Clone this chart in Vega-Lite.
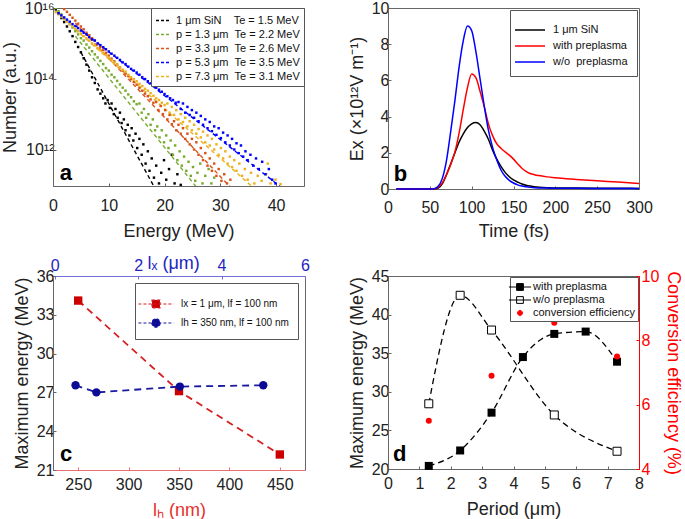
{
  "$schema": "https://vega.github.io/schema/vega-lite/v6.json",
  "padding": {"left": 0, "top": -1, "right": 0, "bottom": 0},
  "config": {
    "font": "Liberation Sans",
    "view": {"stroke": "#666", "strokeWidth": 1},
    "axis": {"grid": false, "labelFontSize": 16, "titleFontSize": 18, "titleFontWeight": "normal", "labelColor": "#222", "titleColor": "#222", "domainColor": "#666", "tickColor": "#666", "tickSize": -3, "tickCount": 20, "labelFlush": false, "labelOverlap": false, "labelBound": false},
    "axisX": {"labelPadding": 9, "titlePadding": 9},
    "axisY": {"labelPadding": 2, "titlePadding": 5},
    "legend": {"labelFont": "Liberation Sans", "labelColor": "#111", "strokeColor": "#555", "fillColor": "white"}
  },
  "resolve": {"scale": {"color": "independent", "fill": "independent"}, "legend": {"color": "independent", "fill": "independent"}},
  "bounds": "flush",
  "columns": 2,
  "spacing": {"row": 87, "column": 83},
  "datasets": {
    "fit": [
      {"E": 5, "N": 5.6e14, "s": "SiN"}, {"E": 18.5, "N": 6.9e10, "s": "SiN"},
      {"E": 4, "N": 1.6e15, "s": "p1.3"}, {"E": 26, "N": 7.6e10, "s": "p1.3"},
      {"E": 4, "N": 3.8e15, "s": "p3.3"}, {"E": 32.5, "N": 6.6e10, "s": "p3.3"},
      {"E": 4, "N": 3.2e15, "s": "p5.3"}, {"E": 41, "N": 8.3e10, "s": "p5.3"},
      {"E": 4, "N": 2.5e15, "s": "p7.3"}, {"E": 36, "N": 8.1e10, "s": "p7.3"}
    ],
    "spec": [
      {"E": 0.5, "N": 9.1e15, "s": "SiN"}, {"E": 1, "N": 7.1e15, "s": "SiN"}, {"E": 1.5, "N": 5.2e15, "s": "SiN"}, {"E": 2, "N": 4.0e15, "s": "SiN"},
      {"E": 2.5, "N": 3.0e15, "s": "SiN"}, {"E": 3, "N": 2.2e15, "s": "SiN"}, {"E": 3.5, "N": 1.6e15, "s": "SiN"}, {"E": 4, "N": 1.1e15, "s": "SiN"},
      {"E": 4.5, "N": 7.9e14, "s": "SiN"}, {"E": 5, "N": 5.6e14, "s": "SiN"}, {"E": 5.5, "N": 3.8e14, "s": "SiN"}, {"E": 6, "N": 2.5e14, "s": "SiN"},
      {"E": 6.5, "N": 1.7e14, "s": "SiN"}, {"E": 7, "N": 1.1e14, "s": "SiN"}, {"E": 7.5, "N": 7.6e13, "s": "SiN"}, {"E": 8, "N": 5.0e13, "s": "SiN"},
      {"E": 8.5, "N": 3.8e13, "s": "SiN"}, {"E": 9, "N": 2.8e13, "s": "SiN"}, {"E": 9.4, "N": 2.0e13, "s": "SiN"}, {"E": 9.8, "N": 2.5e13, "s": "SiN"},
      {"E": 10.2, "N": 1.5e13, "s": "SiN"}, {"E": 10.5, "N": 2.0e13, "s": "SiN"}, {"E": 10.9, "N": 1.0e13, "s": "SiN"}, {"E": 11.2, "N": 1.4e13, "s": "SiN"},
      {"E": 11.6, "N": 7.9e12, "s": "SiN"}, {"E": 12, "N": 1.1e13, "s": "SiN"}, {"E": 12.3, "N": 5.6e12, "s": "SiN"}, {"E": 12.7, "N": 7.1e12, "s": "SiN"},
      {"E": 13, "N": 3.5e12, "s": "SiN"}, {"E": 13.4, "N": 5.0e12, "s": "SiN"}, {"E": 13.7, "N": 2.5e12, "s": "SiN"}, {"E": 14.1, "N": 4.0e12, "s": "SiN"},
      {"E": 14.4, "N": 1.8e12, "s": "SiN"}, {"E": 14.8, "N": 2.8e12, "s": "SiN"}, {"E": 15.1, "N": 1.1e12, "s": "SiN"}, {"E": 15.5, "N": 2.0e12, "s": "SiN"},
      {"E": 15.9, "N": 7.1e11, "s": "SiN"}, {"E": 16.2, "N": 1.4e12, "s": "SiN"}, {"E": 16.6, "N": 4.0e11, "s": "SiN"}, {"E": 17, "N": 8.9e11, "s": "SiN"},
      {"E": 17.3, "N": 2.5e11, "s": "SiN"}, {"E": 17.7, "N": 5.6e11, "s": "SiN"}, {"E": 18.1, "N": 1.6e11, "s": "SiN"}, {"E": 18.5, "N": 3.5e11, "s": "SiN"},
      {"E": 19, "N": 1.1e11, "s": "SiN"}, {"E": 19.4, "N": 2.2e11, "s": "SiN"}, {"E": 19.9, "N": 5.0e11, "s": "SiN"}, {"E": 20.3, "N": 1.4e11, "s": "SiN"},
      {"E": 20.8, "N": 2.8e11, "s": "SiN"}, {"E": 21.3, "N": 7.1e11, "s": "SiN"}, {"E": 21.8, "N": 1.1e11, "s": "SiN"}, {"E": 22.3, "N": 2.0e11, "s": "SiN"},
      {"E": 22.9, "N": 1.0e11, "s": "SiN"},

      {"E": 0.5, "N": 1.0e16, "s": "p1.3"}, {"E": 1, "N": 8.1e15, "s": "p1.3"}, {"E": 1.5, "N": 6.6e15, "s": "p1.3"}, {"E": 2, "N": 5.3e15, "s": "p1.3"},
      {"E": 2.5, "N": 4.3e15, "s": "p1.3"}, {"E": 3, "N": 3.5e15, "s": "p1.3"}, {"E": 3.5, "N": 2.8e15, "s": "p1.3"}, {"E": 4, "N": 2.2e15, "s": "p1.3"},
      {"E": 4.5, "N": 1.8e15, "s": "p1.3"}, {"E": 5, "N": 1.4e15, "s": "p1.3"}, {"E": 5.5, "N": 1.2e15, "s": "p1.3"}, {"E": 6, "N": 9.3e14, "s": "p1.3"},
      {"E": 6.5, "N": 7.6e14, "s": "p1.3"}, {"E": 7, "N": 6.0e14, "s": "p1.3"}, {"E": 7.5, "N": 4.9e14, "s": "p1.3"}, {"E": 8, "N": 4.0e14, "s": "p1.3"},
      {"E": 8.5, "N": 3.2e14, "s": "p1.3"}, {"E": 9, "N": 2.6e14, "s": "p1.3"}, {"E": 9.5, "N": 2.0e14, "s": "p1.3"}, {"E": 10, "N": 1.7e14, "s": "p1.3"},
      {"E": 10.5, "N": 1.3e14, "s": "p1.3"}, {"E": 11, "N": 1.1e14, "s": "p1.3"}, {"E": 11.5, "N": 8.7e13, "s": "p1.3"}, {"E": 12, "N": 6.9e13, "s": "p1.3"},
      {"E": 12.5, "N": 5.6e13, "s": "p1.3"}, {"E": 13, "N": 4.6e13, "s": "p1.3"}, {"E": 13.5, "N": 3.6e13, "s": "p1.3"}, {"E": 14, "N": 3.0e13, "s": "p1.3"},
      {"E": 14.5, "N": 2.3e13, "s": "p1.3"}, {"E": 15, "N": 1.9e13, "s": "p1.3"}, {"E": 15.5, "N": 2.0e13, "s": "p1.3"}, {"E": 15.9, "N": 1.1e13, "s": "p1.3"},
      {"E": 16.3, "N": 1.4e13, "s": "p1.3"}, {"E": 16.7, "N": 7.9e12, "s": "p1.3"}, {"E": 17.1, "N": 1.0e13, "s": "p1.3"}, {"E": 17.5, "N": 5.0e12, "s": "p1.3"},
      {"E": 17.9, "N": 7.1e12, "s": "p1.3"}, {"E": 18.3, "N": 3.5e12, "s": "p1.3"}, {"E": 18.7, "N": 4.5e12, "s": "p1.3"}, {"E": 19.1, "N": 2.2e12, "s": "p1.3"},
      {"E": 19.5, "N": 3.5e12, "s": "p1.3"}, {"E": 19.9, "N": 1.6e12, "s": "p1.3"}, {"E": 20.3, "N": 2.5e12, "s": "p1.3"}, {"E": 20.7, "N": 1.1e12, "s": "p1.3"},
      {"E": 21.1, "N": 1.8e12, "s": "p1.3"}, {"E": 21.5, "N": 7.1e11, "s": "p1.3"}, {"E": 21.9, "N": 1.3e12, "s": "p1.3"}, {"E": 22.3, "N": 5.0e11, "s": "p1.3"},
      {"E": 22.7, "N": 8.9e11, "s": "p1.3"}, {"E": 23.1, "N": 3.5e11, "s": "p1.3"}, {"E": 23.5, "N": 6.3e11, "s": "p1.3"}, {"E": 23.9, "N": 2.5e11, "s": "p1.3"},
      {"E": 24.3, "N": 4.5e11, "s": "p1.3"}, {"E": 24.7, "N": 1.8e11, "s": "p1.3"}, {"E": 25.1, "N": 3.2e11, "s": "p1.3"}, {"E": 25.5, "N": 1.3e11, "s": "p1.3"},
      {"E": 25.9, "N": 2.2e11, "s": "p1.3"}, {"E": 26.4, "N": 4.0e11, "s": "p1.3"}, {"E": 26.8, "N": 1.1e11, "s": "p1.3"}, {"E": 27.3, "N": 1.8e11, "s": "p1.3"},
      {"E": 27.9, "N": 2.8e11, "s": "p1.3"}, {"E": 28.4, "N": 1.1e11, "s": "p1.3"}, {"E": 28.9, "N": 1.6e11, "s": "p1.3"},

      {"E": 2, "N": 9.3e15, "s": "p3.3"}, {"E": 2.5, "N": 7.8e15, "s": "p3.3"}, {"E": 3, "N": 6.4e15, "s": "p3.3"}, {"E": 3.5, "N": 5.3e15, "s": "p3.3"},
      {"E": 4, "N": 4.4e15, "s": "p3.3"}, {"E": 4.5, "N": 3.6e15, "s": "p3.3"}, {"E": 5, "N": 3.0e15, "s": "p3.3"}, {"E": 5.5, "N": 2.5e15, "s": "p3.3"},
      {"E": 6, "N": 2.0e15, "s": "p3.3"}, {"E": 6.5, "N": 1.7e15, "s": "p3.3"}, {"E": 7, "N": 1.4e15, "s": "p3.3"}, {"E": 7.5, "N": 1.2e15, "s": "p3.3"},
      {"E": 8, "N": 9.5e14, "s": "p3.3"}, {"E": 8.5, "N": 7.9e14, "s": "p3.3"}, {"E": 9, "N": 6.6e14, "s": "p3.3"}, {"E": 9.5, "N": 5.4e14, "s": "p3.3"},
      {"E": 10, "N": 4.5e14, "s": "p3.3"}, {"E": 10.5, "N": 3.7e14, "s": "p3.3"}, {"E": 11, "N": 3.1e14, "s": "p3.3"}, {"E": 11.5, "N": 2.5e14, "s": "p3.3"},
      {"E": 12, "N": 2.1e14, "s": "p3.3"}, {"E": 12.5, "N": 1.7e14, "s": "p3.3"}, {"E": 13, "N": 1.4e14, "s": "p3.3"}, {"E": 13.5, "N": 1.2e14, "s": "p3.3"},
      {"E": 14, "N": 9.8e13, "s": "p3.3"}, {"E": 14.5, "N": 8.1e13, "s": "p3.3"}, {"E": 15, "N": 6.8e13, "s": "p3.3"}, {"E": 15.5, "N": 5.5e13, "s": "p3.3"},
      {"E": 16, "N": 4.6e13, "s": "p3.3"}, {"E": 16.5, "N": 3.8e13, "s": "p3.3"}, {"E": 17, "N": 3.2e13, "s": "p3.3"}, {"E": 17.5, "N": 2.6e13, "s": "p3.3"},
      {"E": 18, "N": 2.1e13, "s": "p3.3"}, {"E": 18.5, "N": 2.2e13, "s": "p3.3"}, {"E": 18.9, "N": 1.3e13, "s": "p3.3"}, {"E": 19.3, "N": 1.7e13, "s": "p3.3"},
      {"E": 19.7, "N": 1.0e13, "s": "p3.3"}, {"E": 20.1, "N": 1.3e13, "s": "p3.3"}, {"E": 20.5, "N": 7.1e12, "s": "p3.3"}, {"E": 20.9, "N": 9.5e12, "s": "p3.3"},
      {"E": 21.3, "N": 5.2e12, "s": "p3.3"}, {"E": 21.7, "N": 6.3e12, "s": "p3.3"}, {"E": 22.1, "N": 3.5e12, "s": "p3.3"}, {"E": 22.5, "N": 5.0e12, "s": "p3.3"},
      {"E": 22.9, "N": 2.8e12, "s": "p3.3"}, {"E": 23.3, "N": 4.0e12, "s": "p3.3"}, {"E": 23.7, "N": 2.0e12, "s": "p3.3"}, {"E": 24.1, "N": 2.8e12, "s": "p3.3"},
      {"E": 24.5, "N": 1.4e12, "s": "p3.3"}, {"E": 24.9, "N": 2.0e12, "s": "p3.3"}, {"E": 25.3, "N": 1.0e12, "s": "p3.3"}, {"E": 25.7, "N": 1.6e12, "s": "p3.3"},
      {"E": 26.1, "N": 7.1e11, "s": "p3.3"}, {"E": 26.5, "N": 1.1e12, "s": "p3.3"}, {"E": 26.9, "N": 5.0e11, "s": "p3.3"}, {"E": 27.3, "N": 7.9e11, "s": "p3.3"},
      {"E": 27.7, "N": 3.5e11, "s": "p3.3"}, {"E": 28.1, "N": 5.6e11, "s": "p3.3"}, {"E": 28.5, "N": 2.5e11, "s": "p3.3"}, {"E": 28.9, "N": 4.0e11, "s": "p3.3"},
      {"E": 29.3, "N": 1.8e11, "s": "p3.3"}, {"E": 29.7, "N": 2.8e11, "s": "p3.3"}, {"E": 30.2, "N": 1.3e11, "s": "p3.3"}, {"E": 30.7, "N": 2.0e11, "s": "p3.3"},
      {"E": 31.2, "N": 1.1e11, "s": "p3.3"}, {"E": 31.8, "N": 1.4e11, "s": "p3.3"},

      {"E": 0.5, "N": 7.6e15, "s": "p7.3"}, {"E": 1, "N": 6.6e15, "s": "p7.3"}, {"E": 1.5, "N": 5.6e15, "s": "p7.3"}, {"E": 2, "N": 4.8e15, "s": "p7.3"},
      {"E": 2.5, "N": 4.1e15, "s": "p7.3"}, {"E": 3, "N": 3.5e15, "s": "p7.3"}, {"E": 3.5, "N": 3.0e15, "s": "p7.3"}, {"E": 4, "N": 2.6e15, "s": "p7.3"},
      {"E": 4.5, "N": 2.2e15, "s": "p7.3"}, {"E": 5, "N": 1.9e15, "s": "p7.3"}, {"E": 5.5, "N": 1.6e15, "s": "p7.3"}, {"E": 6, "N": 1.4e15, "s": "p7.3"},
      {"E": 6.5, "N": 1.2e15, "s": "p7.3"}, {"E": 7, "N": 1.0e15, "s": "p7.3"}, {"E": 7.5, "N": 8.7e14, "s": "p7.3"}, {"E": 8, "N": 7.4e14, "s": "p7.3"},
      {"E": 8.5, "N": 6.3e14, "s": "p7.3"}, {"E": 9, "N": 5.5e14, "s": "p7.3"}, {"E": 9.5, "N": 4.7e14, "s": "p7.3"}, {"E": 10, "N": 4.0e14, "s": "p7.3"},
      {"E": 10.5, "N": 3.4e14, "s": "p7.3"}, {"E": 11, "N": 2.9e14, "s": "p7.3"}, {"E": 11.5, "N": 2.5e14, "s": "p7.3"}, {"E": 12, "N": 2.1e14, "s": "p7.3"},
      {"E": 12.5, "N": 1.8e14, "s": "p7.3"}, {"E": 13, "N": 1.6e14, "s": "p7.3"}, {"E": 13.5, "N": 1.3e14, "s": "p7.3"}, {"E": 14, "N": 1.1e14, "s": "p7.3"},
      {"E": 14.5, "N": 9.8e13, "s": "p7.3"}, {"E": 15, "N": 8.5e13, "s": "p7.3"}, {"E": 15.5, "N": 7.2e13, "s": "p7.3"}, {"E": 16, "N": 6.2e13, "s": "p7.3"},
      {"E": 16.5, "N": 5.2e13, "s": "p7.3"}, {"E": 17, "N": 4.6e13, "s": "p7.3"}, {"E": 17.5, "N": 3.9e13, "s": "p7.3"}, {"E": 18, "N": 3.3e13, "s": "p7.3"},
      {"E": 18.5, "N": 2.8e13, "s": "p7.3"}, {"E": 19, "N": 2.5e13, "s": "p7.3"}, {"E": 19.5, "N": 2.1e13, "s": "p7.3"}, {"E": 20, "N": 1.8e13, "s": "p7.3"},
      {"E": 20.5, "N": 2.0e13, "s": "p7.3"}, {"E": 20.9, "N": 1.1e13, "s": "p7.3"}, {"E": 21.3, "N": 1.6e13, "s": "p7.3"}, {"E": 21.7, "N": 9.5e12, "s": "p7.3"},
      {"E": 22.1, "N": 1.3e13, "s": "p7.3"}, {"E": 22.5, "N": 7.1e12, "s": "p7.3"}, {"E": 22.9, "N": 1.0e13, "s": "p7.3"}, {"E": 23.3, "N": 6.0e12, "s": "p7.3"},
      {"E": 23.7, "N": 7.9e12, "s": "p7.3"}, {"E": 24.1, "N": 4.5e12, "s": "p7.3"}, {"E": 24.5, "N": 6.3e12, "s": "p7.3"}, {"E": 24.9, "N": 3.5e12, "s": "p7.3"},
      {"E": 25.3, "N": 5.0e12, "s": "p7.3"}, {"E": 25.7, "N": 2.8e12, "s": "p7.3"}, {"E": 26.1, "N": 3.8e12, "s": "p7.3"}, {"E": 26.5, "N": 2.2e12, "s": "p7.3"},
      {"E": 26.9, "N": 3.2e12, "s": "p7.3"}, {"E": 27.3, "N": 1.6e12, "s": "p7.3"}, {"E": 27.7, "N": 2.5e12, "s": "p7.3"}, {"E": 28.1, "N": 1.3e12, "s": "p7.3"},
      {"E": 28.5, "N": 2.0e12, "s": "p7.3"}, {"E": 28.9, "N": 1.0e12, "s": "p7.3"}, {"E": 29.3, "N": 1.4e12, "s": "p7.3"}, {"E": 29.7, "N": 7.1e11, "s": "p7.3"},
      {"E": 30.1, "N": 1.1e12, "s": "p7.3"}, {"E": 30.5, "N": 5.6e11, "s": "p7.3"}, {"E": 30.9, "N": 8.9e11, "s": "p7.3"}, {"E": 31.3, "N": 4.0e11, "s": "p7.3"},
      {"E": 31.7, "N": 6.3e11, "s": "p7.3"}, {"E": 32.1, "N": 3.2e11, "s": "p7.3"}, {"E": 32.5, "N": 5.0e11, "s": "p7.3"}, {"E": 32.9, "N": 2.5e11, "s": "p7.3"},
      {"E": 33.4, "N": 4.0e11, "s": "p7.3"}, {"E": 33.9, "N": 1.8e11, "s": "p7.3"}, {"E": 34.4, "N": 2.8e11, "s": "p7.3"}, {"E": 34.9, "N": 1.4e11, "s": "p7.3"},
      {"E": 35.5, "N": 2.2e11, "s": "p7.3"}, {"E": 36.1, "N": 1.1e11, "s": "p7.3"}, {"E": 36.7, "N": 1.8e11, "s": "p7.3"}, {"E": 37.4, "N": 1.3e11, "s": "p7.3"},
      {"E": 38.2, "N": 2.0e11, "s": "p7.3"}, {"E": 38.5, "N": 4.0e11, "s": "p7.3"}, {"E": 39, "N": 1.1e11, "s": "p7.3"}, {"E": 39.9, "N": 1.4e11, "s": "p7.3"},
      {"E": 40.8, "N": 1.05e11, "s": "p7.3"},

      {"E": 1, "N": 7.1e15, "s": "p5.3"}, {"E": 1.5, "N": 6.2e15, "s": "p5.3"}, {"E": 2, "N": 5.4e15, "s": "p5.3"}, {"E": 2.5, "N": 4.7e15, "s": "p5.3"},
      {"E": 3, "N": 4.1e15, "s": "p5.3"}, {"E": 3.5, "N": 3.5e15, "s": "p5.3"}, {"E": 4, "N": 3.1e15, "s": "p5.3"}, {"E": 4.5, "N": 2.7e15, "s": "p5.3"},
      {"E": 5, "N": 2.3e15, "s": "p5.3"}, {"E": 5.5, "N": 2.0e15, "s": "p5.3"}, {"E": 6, "N": 1.8e15, "s": "p5.3"}, {"E": 6.5, "N": 1.5e15, "s": "p5.3"},
      {"E": 7, "N": 1.3e15, "s": "p5.3"}, {"E": 7.5, "N": 1.2e15, "s": "p5.3"}, {"E": 8, "N": 1.0e15, "s": "p5.3"}, {"E": 8.5, "N": 8.9e14, "s": "p5.3"},
      {"E": 9, "N": 7.8e14, "s": "p5.3"}, {"E": 9.5, "N": 6.8e14, "s": "p5.3"}, {"E": 10, "N": 5.9e14, "s": "p5.3"}, {"E": 10.5, "N": 5.1e14, "s": "p5.3"},
      {"E": 11, "N": 4.5e14, "s": "p5.3"}, {"E": 11.5, "N": 3.9e14, "s": "p5.3"}, {"E": 12, "N": 3.4e14, "s": "p5.3"}, {"E": 12.5, "N": 2.9e14, "s": "p5.3"},
      {"E": 13, "N": 2.6e14, "s": "p5.3"}, {"E": 13.5, "N": 2.2e14, "s": "p5.3"}, {"E": 14, "N": 1.9e14, "s": "p5.3"}, {"E": 14.5, "N": 1.7e14, "s": "p5.3"},
      {"E": 15, "N": 1.5e14, "s": "p5.3"}, {"E": 15.5, "N": 1.3e14, "s": "p5.3"}, {"E": 16, "N": 1.1e14, "s": "p5.3"}, {"E": 16.5, "N": 9.8e13, "s": "p5.3"},
      {"E": 17, "N": 8.5e13, "s": "p5.3"}, {"E": 17.5, "N": 7.4e13, "s": "p5.3"}, {"E": 18, "N": 6.5e13, "s": "p5.3"}, {"E": 18.5, "N": 5.6e13, "s": "p5.3"},
      {"E": 19, "N": 4.9e13, "s": "p5.3"}, {"E": 19.5, "N": 4.3e13, "s": "p5.3"}, {"E": 20, "N": 3.7e13, "s": "p5.3"}, {"E": 20.5, "N": 3.2e13, "s": "p5.3"},
      {"E": 21, "N": 2.8e13, "s": "p5.3"}, {"E": 21.5, "N": 2.5e13, "s": "p5.3"}, {"E": 22, "N": 2.1e13, "s": "p5.3"}, {"E": 22.5, "N": 2.2e13, "s": "p5.3"},
      {"E": 22.9, "N": 1.4e13, "s": "p5.3"}, {"E": 23.3, "N": 2.0e13, "s": "p5.3"}, {"E": 23.7, "N": 1.1e13, "s": "p5.3"}, {"E": 24.1, "N": 1.6e13, "s": "p5.3"},
      {"E": 24.5, "N": 9.5e12, "s": "p5.3"}, {"E": 24.9, "N": 1.3e13, "s": "p5.3"}, {"E": 25.3, "N": 7.9e12, "s": "p5.3"}, {"E": 25.7, "N": 1.1e13, "s": "p5.3"},
      {"E": 26.1, "N": 6.3e12, "s": "p5.3"}, {"E": 26.5, "N": 8.9e12, "s": "p5.3"}, {"E": 26.9, "N": 5.0e12, "s": "p5.3"}, {"E": 27.3, "N": 7.1e12, "s": "p5.3"},
      {"E": 27.7, "N": 4.0e12, "s": "p5.3"}, {"E": 28.1, "N": 6.0e12, "s": "p5.3"}, {"E": 28.5, "N": 3.3e12, "s": "p5.3"}, {"E": 28.9, "N": 4.5e12, "s": "p5.3"},
      {"E": 29.3, "N": 2.6e12, "s": "p5.3"}, {"E": 29.7, "N": 4.0e12, "s": "p5.3"}, {"E": 30.1, "N": 2.1e12, "s": "p5.3"}, {"E": 30.5, "N": 3.0e12, "s": "p5.3"},
      {"E": 30.9, "N": 1.6e12, "s": "p5.3"}, {"E": 31.3, "N": 2.5e12, "s": "p5.3"}, {"E": 31.7, "N": 1.3e12, "s": "p5.3"}, {"E": 32.1, "N": 2.0e12, "s": "p5.3"},
      {"E": 32.5, "N": 1.0e12, "s": "p5.3"}, {"E": 32.9, "N": 1.5e12, "s": "p5.3"}, {"E": 33.3, "N": 7.9e11, "s": "p5.3"}, {"E": 33.7, "N": 1.3e12, "s": "p5.3"},
      {"E": 34.1, "N": 6.3e11, "s": "p5.3"}, {"E": 34.5, "N": 8.9e11, "s": "p5.3"}, {"E": 34.9, "N": 5.0e11, "s": "p5.3"}, {"E": 35.4, "N": 7.1e11, "s": "p5.3"},
      {"E": 35.9, "N": 3.5e11, "s": "p5.3"}, {"E": 36.4, "N": 5.6e11, "s": "p5.3"}, {"E": 36.9, "N": 2.8e11, "s": "p5.3"}, {"E": 37.5, "N": 4.5e11, "s": "p5.3"},
      {"E": 38.1, "N": 2.0e11, "s": "p5.3"}, {"E": 38.7, "N": 2.8e11, "s": "p5.3"}, {"E": 39.3, "N": 1.4e11, "s": "p5.3"}, {"E": 39.9, "N": 1.1e11, "s": "p5.3"}
    ],
    "ex": [
      {"t": 10, "v": 0, "s": "1 μm SiN"}, {"t": 50, "v": 0, "s": "1 μm SiN"}, {"t": 55, "v": 0, "s": "1 μm SiN"}, {"t": 60, "v": 0.05, "s": "1 μm SiN"},
      {"t": 65, "v": 0.3, "s": "1 μm SiN"}, {"t": 70, "v": 0.8, "s": "1 μm SiN"}, {"t": 75, "v": 1.4, "s": "1 μm SiN"}, {"t": 80, "v": 2.0, "s": "1 μm SiN"},
      {"t": 85, "v": 2.6, "s": "1 μm SiN"}, {"t": 90, "v": 3.05, "s": "1 μm SiN"}, {"t": 95, "v": 3.4, "s": "1 μm SiN"}, {"t": 100, "v": 3.6, "s": "1 μm SiN"},
      {"t": 105, "v": 3.67, "s": "1 μm SiN"}, {"t": 110, "v": 3.55, "s": "1 μm SiN"}, {"t": 115, "v": 3.2, "s": "1 μm SiN"}, {"t": 120, "v": 2.75, "s": "1 μm SiN"},
      {"t": 125, "v": 2.15, "s": "1 μm SiN"}, {"t": 130, "v": 1.65, "s": "1 μm SiN"}, {"t": 135, "v": 1.25, "s": "1 μm SiN"}, {"t": 140, "v": 0.92, "s": "1 μm SiN"},
      {"t": 145, "v": 0.68, "s": "1 μm SiN"}, {"t": 150, "v": 0.5, "s": "1 μm SiN"}, {"t": 155, "v": 0.38, "s": "1 μm SiN"}, {"t": 160, "v": 0.28, "s": "1 μm SiN"},
      {"t": 165, "v": 0.21, "s": "1 μm SiN"}, {"t": 170, "v": 0.16, "s": "1 μm SiN"}, {"t": 175, "v": 0.12, "s": "1 μm SiN"}, {"t": 180, "v": 0.1, "s": "1 μm SiN"},
      {"t": 190, "v": 0.07, "s": "1 μm SiN"}, {"t": 200, "v": 0.06, "s": "1 μm SiN"}, {"t": 225, "v": 0.05, "s": "1 μm SiN"}, {"t": 250, "v": 0.04, "s": "1 μm SiN"},
      {"t": 275, "v": 0.04, "s": "1 μm SiN"}, {"t": 300, "v": 0.03, "s": "1 μm SiN"},
      {"t": 10, "v": 0, "s": "with preplasma"}, {"t": 50, "v": 0, "s": "with preplasma"}, {"t": 55, "v": 0, "s": "with preplasma"}, {"t": 60, "v": 0.1, "s": "with preplasma"},
      {"t": 65, "v": 0.35, "s": "with preplasma"}, {"t": 70, "v": 0.8, "s": "with preplasma"}, {"t": 75, "v": 1.35, "s": "with preplasma"}, {"t": 80, "v": 2.05, "s": "with preplasma"},
      {"t": 85, "v": 3.1, "s": "with preplasma"}, {"t": 90, "v": 4.4, "s": "with preplasma"}, {"t": 95, "v": 5.6, "s": "with preplasma"}, {"t": 100, "v": 6.35, "s": "with preplasma"},
      {"t": 105, "v": 6.15, "s": "with preplasma"}, {"t": 110, "v": 5.4, "s": "with preplasma"}, {"t": 115, "v": 4.55, "s": "with preplasma"}, {"t": 120, "v": 3.6, "s": "with preplasma"},
      {"t": 125, "v": 2.95, "s": "with preplasma"}, {"t": 130, "v": 2.5, "s": "with preplasma"}, {"t": 135, "v": 2.25, "s": "with preplasma"}, {"t": 140, "v": 2.05, "s": "with preplasma"},
      {"t": 145, "v": 1.87, "s": "with preplasma"}, {"t": 150, "v": 1.65, "s": "with preplasma"}, {"t": 155, "v": 1.4, "s": "with preplasma"}, {"t": 160, "v": 1.15, "s": "with preplasma"},
      {"t": 165, "v": 0.98, "s": "with preplasma"}, {"t": 170, "v": 0.86, "s": "with preplasma"}, {"t": 175, "v": 0.79, "s": "with preplasma"}, {"t": 180, "v": 0.74, "s": "with preplasma"},
      {"t": 190, "v": 0.67, "s": "with preplasma"}, {"t": 200, "v": 0.62, "s": "with preplasma"}, {"t": 225, "v": 0.53, "s": "with preplasma"}, {"t": 250, "v": 0.45, "s": "with preplasma"},
      {"t": 275, "v": 0.38, "s": "with preplasma"}, {"t": 300, "v": 0.3, "s": "with preplasma"},
      {"t": 10, "v": 0, "s": "w/o preplasma"}, {"t": 50, "v": 0, "s": "w/o preplasma"}, {"t": 55, "v": 0.02, "s": "w/o preplasma"}, {"t": 60, "v": 0.15, "s": "w/o preplasma"},
      {"t": 65, "v": 0.6, "s": "w/o preplasma"}, {"t": 70, "v": 1.6, "s": "w/o preplasma"}, {"t": 75, "v": 3.2, "s": "w/o preplasma"}, {"t": 80, "v": 4.9, "s": "w/o preplasma"},
      {"t": 85, "v": 6.75, "s": "w/o preplasma"}, {"t": 90, "v": 8.2, "s": "w/o preplasma"}, {"t": 95, "v": 9.0, "s": "w/o preplasma"}, {"t": 100, "v": 8.75, "s": "w/o preplasma"},
      {"t": 105, "v": 7.6, "s": "w/o preplasma"}, {"t": 110, "v": 6.1, "s": "w/o preplasma"}, {"t": 115, "v": 4.6, "s": "w/o preplasma"}, {"t": 120, "v": 3.25, "s": "w/o preplasma"},
      {"t": 125, "v": 2.3, "s": "w/o preplasma"}, {"t": 130, "v": 1.6, "s": "w/o preplasma"}, {"t": 135, "v": 1.05, "s": "w/o preplasma"}, {"t": 140, "v": 0.7, "s": "w/o preplasma"},
      {"t": 145, "v": 0.48, "s": "w/o preplasma"}, {"t": 150, "v": 0.33, "s": "w/o preplasma"}, {"t": 155, "v": 0.23, "s": "w/o preplasma"}, {"t": 160, "v": 0.16, "s": "w/o preplasma"},
      {"t": 165, "v": 0.12, "s": "w/o preplasma"}, {"t": 170, "v": 0.09, "s": "w/o preplasma"}, {"t": 175, "v": 0.07, "s": "w/o preplasma"}, {"t": 180, "v": 0.06, "s": "w/o preplasma"},
      {"t": 190, "v": 0.05, "s": "w/o preplasma"}, {"t": 200, "v": 0.04, "s": "w/o preplasma"}, {"t": 225, "v": 0.04, "s": "w/o preplasma"}, {"t": 250, "v": 0.03, "s": "w/o preplasma"},
      {"t": 275, "v": 0.03, "s": "w/o preplasma"}, {"t": 300, "v": 0.03, "s": "w/o preplasma"}
    ],
    "cr": [
      {"lh": 250, "E": 34.1, "s": "lx = 1 μm, lf = 100 nm"},
      {"lh": 350, "E": 27.1, "s": "lx = 1 μm, lf = 100 nm"},
      {"lh": 450, "E": 22.2, "s": "lx = 1 μm, lf = 100 nm"}
    ],
    "cb": [
      {"lx": 0.5, "E": 27.55, "s": "lh = 350 nm, lf = 100 nm"},
      {"lx": 1, "E": 27.0, "s": "lh = 350 nm, lf = 100 nm"},
      {"lx": 3, "E": 27.45, "s": "lh = 350 nm, lf = 100 nm"},
      {"lx": 5, "E": 27.55, "s": "lh = 350 nm, lf = 100 nm"}
    ],
    "d": [
      {"p": 1.3, "E": 20.4, "s": "with preplasma"}, {"p": 2.3, "E": 22.4, "s": "with preplasma"}, {"p": 3.3, "E": 27.3, "s": "with preplasma"},
      {"p": 4.3, "E": 34.5, "s": "with preplasma"}, {"p": 5.3, "E": 37.5, "s": "with preplasma"}, {"p": 6.3, "E": 37.8, "s": "with preplasma"},
      {"p": 7.3, "E": 33.9, "s": "with preplasma"},
      {"p": 1.3, "E": 28.45, "s": "w/o preplasma"}, {"p": 2.3, "E": 42.5, "s": "w/o preplasma"}, {"p": 3.3, "E": 38.0, "s": "w/o preplasma"},
      {"p": 5.3, "E": 27.0, "s": "w/o preplasma"}, {"p": 7.3, "E": 22.3, "s": "w/o preplasma"}
    ],
    "ce": [
      {"p": 1.3, "ce": 5.5}, {"p": 3.3, "ce": 6.9}, {"p": 5.3, "ce": 8.55}, {"p": 7.3, "ce": 7.5}
    ]
  },
  "concat": [
    {
      "width": 251,
      "height": 178,
      "layer": [
        {
          "data": {"name": "fit"},
          "mark": {"type": "line", "strokeDash": [4, 3], "strokeWidth": 1.4, "clip": true},
          "encoding": {
            "x": {"field": "E", "type": "quantitative", "scale": {"domain": [0, 45], "nice": false}, "axis": {"values": [0, 10, 20, 30, 40], "format": "d", "tickCount": 20, "labelPadding": 14, "titlePadding": 9, "title": "Energy (MeV)", "labelOverlap": false}},
            "y": {"field": "N", "type": "quantitative", "scale": {"type": "log", "domain": [9.3e10, 1e16], "nice": false}, "axis": {"values": [1e12, 1e14, 1e16], "tickCount": 20, "labelOverlap": false, "labelExpr": "datum.value > 1e15 ? '10¹⁶' : datum.value > 1e13 ? '10¹⁴' : '10¹²'", "title": "Number (a.u.)"}},
            "color": {
              "field": "s", "type": "nominal",
              "scale": {"domain": ["SiN", "p1.3", "p3.3", "p5.3", "p7.3"], "range": ["#000000", "#77ac30", "#d95319", "#0000ff", "#edb120"]},
              "legend": {
                "title": null, "orient": "top-right", "offset": 0, "padding": 4, "rowPadding": 0, "labelOffset": 4,
                "symbolType": "stroke", "symbolSize": 225, "symbolStrokeWidth": 1.5, "symbolDash": [3, 2], "labelFontSize": 11,
                "labelExpr": "datum.label == 'SiN' ? '1 μm SiN\u00a0\u00a0\u00a0\u00a0Te = 1.5 MeV' : datum.label == 'p1.3' ? 'p = 1.3 μm\u00a0\u00a0Te = 2.2 MeV' : datum.label == 'p3.3' ? 'p = 3.3 μm\u00a0\u00a0Te = 2.6 MeV' : datum.label == 'p5.3' ? 'p = 5.3 μm\u00a0\u00a0Te = 3.5 MeV' : 'p = 7.3 μm\u00a0\u00a0Te = 3.1 MeV'"
              }
            }
          }
        },
        {
          "data": {"name": "spec"},
          "mark": {"type": "square", "size": 6, "filled": true, "opacity": 1, "clip": true},
          "encoding": {
            "x": {"field": "E", "type": "quantitative"},
            "y": {"field": "N", "type": "quantitative"},
            "fill": {"field": "s", "type": "nominal", "scale": {"domain": ["SiN", "p1.3", "p3.3", "p5.3", "p7.3"], "range": ["#000000", "#77ac30", "#d95319", "#0000ff", "#edb120"]}, "legend": null}
          }
        },
        {
          "data": {"values": [{"E": 1.2, "N": 1.35e11, "t": "a"}]},
          "mark": {"type": "text", "fontSize": 22, "fontWeight": "bold", "align": "left", "baseline": "alphabetic", "color": "black"},
          "encoding": {
            "x": {"field": "E", "type": "quantitative"},
            "y": {"field": "N", "type": "quantitative"},
            "text": {"field": "t"}
          }
        }
      ]
    },
    {
      "width": 251,
      "height": 181,
      "layer": [
        {
          "data": {"name": "ex"},
          "mark": {"type": "line", "strokeWidth": 1.5, "interpolate": "monotone"},
          "encoding": {
            "x": {"field": "t", "type": "quantitative", "scale": {"domain": [0, 300], "nice": false}, "axis": {"values": [0, 50, 100, 150, 200, 250, 300], "format": "d", "tickCount": 20, "labelPadding": 13, "titlePadding": 7, "labelOverlap": false, "title": "Time (fs)"}},
            "y": {"field": "v", "type": "quantitative", "scale": {"domain": [0, 10], "nice": false}, "axis": {"values": [0, 2, 4, 6, 8, 10], "format": "d", "tickCount": 20, "labelOverlap": false, "title": "Ex (×10¹²V m⁻¹)"}},
            "color": {
              "field": "s", "type": "nominal",
              "scale": {"domain": ["1 μm SiN", "with preplasma", "w/o preplasma"], "range": ["#000000", "#ff0000", "#0000ff"]},
              "legend": {
                "title": null, "orient": "top-right", "offset": 2, "padding": 9, "rowPadding": 0, "labelOffset": 12,
                "symbolSize": 400, "labelFontSize": 11,
                "labelExpr": "datum.label == 'w/o preplasma' ? 'w/o\u00a0\u00a0preplasma' : datum.label",
                "encode": {"symbols": {"update": {
                  "shape": {"value": "M-1.5,0H1.5"},
                  "strokeWidth": {"value": 1.5}
                }}}
              }
            }
          }
        },
        {
          "data": {"values": [{"t": 7, "v": 0.42, "l": "b"}]},
          "mark": {"type": "text", "fontSize": 22, "fontWeight": "bold", "align": "left", "baseline": "alphabetic", "color": "black"},
          "encoding": {
            "x": {"field": "t", "type": "quantitative"},
            "y": {"field": "v", "type": "quantitative"},
            "text": {"field": "l"}
          }
        }
      ]
    },
    {
      "width": 252,
      "height": 194,
      "resolve": {"scale": {"x": "independent"}},
      "layer": [
        {
          "encoding": {
            "x": {"field": "lh", "type": "quantitative", "scale": {"domain": [225, 475], "nice": false, "zero": false}, "axis": {"orient": "bottom", "values": [250, 300, 350, 400, 450], "format": "d", "tickCount": 20, "labelOverlap": false, "title": "lₕ (nm)", "titleColor": "#e8302a", "domainColor": "#e87070", "tickColor": "#e87070"}},
            "y": {"field": "E", "type": "quantitative", "scale": {"domain": [21, 36], "nice": false, "zero": false}, "axis": {"values": [21, 24, 27, 30, 33, 36], "format": "d", "tickCount": 20, "labelOverlap": false, "title": "Maximum energy (MeV)"}}
          },
          "layer": [
            {
              "data": {"name": "cr"},
              "mark": {"type": "line", "strokeDash": [7, 5], "strokeWidth": 1.8},
              "encoding": {
                "color": {
                  "field": "s", "type": "nominal",
                  "scale": {"domain": ["lx = 1 μm, lf = 100 nm", "lh = 350 nm, lf = 100 nm"], "range": ["#d42020", "#1a1aa0"]},
                  "legend": {
                    "title": null, "orient": "top-right", "offset": 7, "padding": 9, "rowPadding": 0, "labelOffset": 13,
                    "symbolSize": 484, "labelFontSize": 10,
                    "encode": {"symbols": {"update": {
                      "shape": {"signal": "datum.value == 'lx = 1 μm, lf = 100 nm' ? 'M-1.6,0H1.6M-0.36,-0.36H0.36V0.36H-0.36Z' : 'M-1.6,0H1.6M0.38,0A0.38,0.38,0,1,1,-0.38,0A0.38,0.38,0,1,1,0.38,0Z'"},
                      "fill": {"signal": "datum.value == 'lx = 1 μm, lf = 100 nm' ? '#cc0000' : '#0b0b96'"},
                      "stroke": {"signal": "datum.value == 'lx = 1 μm, lf = 100 nm' ? '#d42020' : '#1a1aa0'"},
                      "strokeWidth": {"value": 1.2},
                      "strokeDash": {"value": [3, 2]},
                      "opacity": {"value": 1}
                    }}}
                  }
                }
              }
            },
            {
              "data": {"name": "cr"},
              "mark": {"type": "square", "size": 70, "filled": true, "color": "#cc0000", "opacity": 1}
            },
            {
              "data": {"values": [{"lh": 232, "E": 21.66, "t": "c"}]},
              "mark": {"type": "text", "fontSize": 22, "fontWeight": "bold", "align": "left", "baseline": "alphabetic", "color": "black"},
              "encoding": {"text": {"field": "t"}}
            }
          ]
        },
        {
          "encoding": {
            "x": {"field": "lx", "type": "quantitative", "scale": {"domain": [-0.04, 6.0], "nice": false, "zero": false}, "axis": {"orient": "top", "values": [0, 2, 4, 6], "format": "d", "tickCount": 20, "labelOverlap": false, "labelPadding": 6, "labelColor": "#2424c0", "domainColor": "#7070d8", "tickColor": "#7070d8", "title": "lₓ (μm)", "titleColor": "#2424c0", "titleX": 94, "titleY": -13, "titleAlign": "left", "titleBaseline": "middle", "titleAngle": 0}},
            "y": {"field": "E", "type": "quantitative"}
          },
          "layer": [
            {
              "data": {"name": "cb"},
              "mark": {"type": "line", "strokeDash": [7, 5], "strokeWidth": 1.8},
              "encoding": {
                "color": {"field": "s", "type": "nominal"}
              }
            },
            {
              "data": {"name": "cb"},
              "mark": {"type": "circle", "size": 70, "color": "#0b0b96", "opacity": 1}
            }
          ]
        }
      ]
    },
    {
      "width": 251,
      "height": 193,
      "resolve": {"scale": {"y": "independent"}},
      "layer": [
        {
          "encoding": {
            "x": {"field": "p", "type": "quantitative", "scale": {"domain": [0, 8], "nice": false}, "axis": {"values": [0, 1, 2, 3, 4, 5, 6, 7, 8], "format": "d", "tickCount": 20, "labelOverlap": false, "title": "Period (μm)"}},
            "y": {"field": "E", "type": "quantitative", "scale": {"domain": [20, 45], "nice": false, "zero": false}, "axis": {"values": [20, 25, 30, 35, 40, 45], "format": "d", "tickCount": 20, "labelOverlap": false, "title": "Maximum energy (MeV)"}}
          },
          "layer": [
            {
              "data": {"name": "d"},
              "mark": {"type": "line", "strokeDash": [6, 4], "strokeWidth": 1.3, "interpolate": "monotone"},
              "encoding": {
                "color": {
                  "field": "s", "type": "nominal",
                  "scale": {"domain": ["with preplasma", "w/o preplasma", "conversion efficiency"], "range": ["#000000", "#000000", "#ff0000"]},
                  "legend": {
                    "title": null, "orient": "top-right", "offset": 1, "padding": 3, "rowPadding": 0, "labelOffset": 6,
                    "symbolSize": 169, "labelFontSize": 11,
                    "encode": {"symbols": {"update": {
                      "shape": {"signal": "datum.value == 'conversion efficiency' ? 'M0.38,0A0.38,0.38,0,1,1,-0.38,0A0.38,0.38,0,1,1,0.38,0Z' : 'M-1.7,0H1.7M-0.52,-0.52H0.52V0.52H-0.52Z'"},
                      "fill": {"signal": "datum.value == 'with preplasma' ? '#000000' : datum.value == 'w/o preplasma' ? '#ffffff' : '#ff0000'"},
                      "stroke": {"signal": "datum.value == 'conversion efficiency' ? '#ff0000' : '#000000'"},
                      "strokeWidth": {"value": 1},
                      "strokeDash": {"value": []},
                      "opacity": {"value": 1}
                    }}}
                  }
                }
              }
            },
            {
              "data": {"name": "d"},
              "transform": [{"filter": "datum.s == 'with preplasma'"}],
              "mark": {"type": "square", "size": 64, "filled": true, "color": "#000000", "opacity": 1}
            },
            {
              "data": {"name": "d"},
              "transform": [{"filter": "datum.s == 'w/o preplasma'"}],
              "mark": {"type": "square", "size": 64, "fill": "#ffffff", "stroke": "#000000", "strokeWidth": 1, "opacity": 1}
            },
            {
              "data": {"values": [{"p": 0.16, "E": 21.0, "t": "d"}]},
              "mark": {"type": "text", "fontSize": 22, "fontWeight": "bold", "align": "left", "baseline": "alphabetic", "color": "black"},
              "encoding": {"text": {"field": "t"}}
            }
          ]
        },
        {
          "data": {"name": "ce"},
          "mark": {"type": "circle", "size": 36, "color": "#ff0000", "opacity": 1},
          "encoding": {
            "x": {"field": "p", "type": "quantitative"},
            "y": {"field": "ce", "type": "quantitative", "scale": {"domain": [4, 10], "nice": false, "zero": false}, "axis": {"orient": "right", "values": [4, 6, 8, 10], "format": "d", "tickCount": 20, "labelOverlap": false, "labelPadding": 5, "title": "Conversion efficiency (%)", "titleColor": "#ff0000", "labelColor": "#ff0000", "domainColor": "#ff0000", "tickColor": "#ff0000"}}
          }
        }
      ]
    }
  ]
}
